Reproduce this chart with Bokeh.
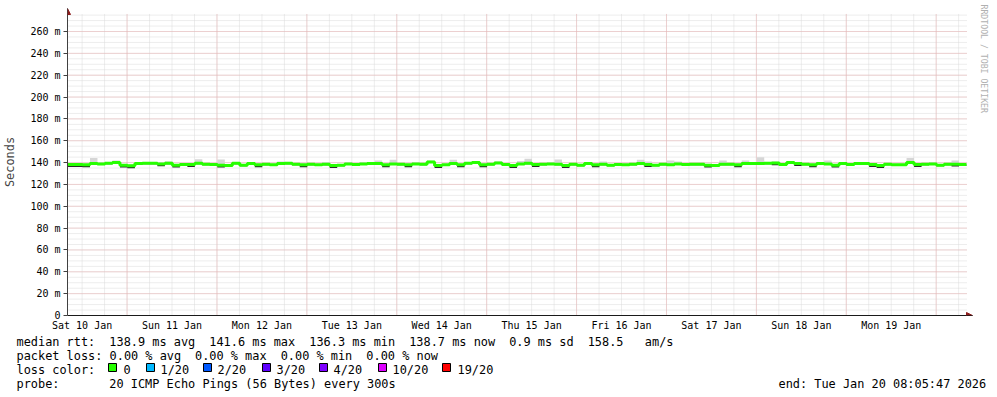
import re
import pandas as pd
from bokeh.plotting import figure
from bokeh.core.properties import value
from bokeh.models import (ColumnDataSource, FixedTicker, DatetimeTickFormatter,
                          Arrow, NormalHead, Range1d, Title)
from bokeh.embed import file_html
from bokeh.resources import INLINE

# ---------------- data ----------------
START = "2026-01-10 08:05:47"
END = "2026-01-20 08:05:47"
STEP = "2h"

median_ms = [
    138.2, 138.2, 137.9, 139.1, 138.8, 139.4, 140.0, 137.6, 137.0, 139.1,
    139.4, 139.4, 138.8, 139.4, 137.6, 138.2, 138.2, 139.4, 138.5, 138.2,
    137.6, 137.3, 139.4, 137.6, 139.1, 137.9, 138.5, 137.9, 139.1, 139.4,
    138.5, 137.9, 138.5, 137.9, 138.5, 137.3, 137.6, 138.8, 138.2, 138.8,
    139.1, 139.1, 137.9, 138.8, 138.5, 137.9, 138.8, 138.5, 140.6, 137.3,
    137.9, 139.1, 137.9, 139.4, 140.0, 137.9, 138.5, 139.7, 138.2, 137.3,
    138.8, 139.4, 138.2, 138.5, 138.8, 138.5, 137.3, 138.5, 137.6, 139.1,
    137.9, 138.5, 137.6, 138.2, 137.9, 138.5, 139.1, 138.2, 137.6, 138.5,
    137.9, 138.8, 138.2, 138.5, 138.5, 137.6, 137.3, 138.5, 138.5, 137.9,
    139.1, 139.1, 139.1, 139.4, 139.7, 138.2, 140.0, 139.1, 138.5, 137.9,
    139.1, 138.8, 137.6, 139.1, 138.2, 139.1, 139.1, 138.2, 137.3, 138.5,
    137.9, 137.9, 140.0, 138.2, 138.5, 138.8, 137.6, 138.5, 138.5, 138.2,
]
ping_hi_ms = [
    139.4, 139.4, 139.1, 144.3, 140.0, 140.6, 141.9, 138.8, 138.2, 140.3,
    140.6, 140.6, 140.0, 141.2, 138.8, 139.4, 139.4, 143.1, 139.7, 139.4,
    142.8, 138.5, 140.6, 138.8, 140.3, 139.1, 139.7, 139.1, 141.0, 140.6,
    139.7, 139.1, 139.7, 139.1, 140.6, 138.5, 138.8, 140.0, 139.4, 140.0,
    140.3, 141.9, 139.1, 142.6, 139.7, 139.1, 140.0, 139.7, 141.8, 138.5,
    139.1, 142.6, 139.1, 140.6, 141.2, 139.1, 139.7, 141.2, 139.4, 138.5,
    141.5, 143.4, 139.4, 139.7, 140.0, 142.8, 138.5, 139.7, 138.8, 140.3,
    139.1, 141.0, 138.8, 139.4, 139.1, 139.7, 142.6, 141.0, 138.8, 139.7,
    141.9, 141.0, 139.4, 139.7, 139.7, 138.8, 138.5, 141.9, 139.7, 139.1,
    141.9, 140.3, 144.9, 140.6, 141.0, 139.4, 141.2, 140.3, 139.7, 139.1,
    140.3, 141.9, 138.8, 140.3, 139.4, 140.3, 140.3, 139.4, 138.5, 139.7,
    139.1, 139.1, 144.3, 139.4, 139.7, 140.0, 138.8, 139.7, 141.9, 139.4,
]
ping_lo_ms = [
    136.0, 136.0, 135.7, 138.1, 137.8, 138.4, 139.0, 135.4, 134.8, 138.1,
    138.4, 138.4, 136.6, 138.4, 135.4, 137.2, 136.0, 138.4, 137.5, 137.2,
    135.4, 136.3, 138.4, 136.6, 138.1, 135.7, 137.5, 136.9, 138.1, 138.4,
    137.5, 135.7, 137.5, 136.9, 137.5, 135.1, 136.6, 137.8, 137.2, 137.8,
    138.1, 138.1, 135.7, 137.8, 137.5, 135.7, 137.8, 137.5, 139.6, 135.1,
    136.9, 138.1, 135.7, 138.4, 139.0, 135.7, 137.5, 138.7, 137.2, 135.1,
    137.8, 138.4, 136.0, 137.5, 137.8, 137.5, 135.1, 137.5, 136.6, 138.1,
    135.7, 137.5, 136.6, 137.2, 136.9, 137.5, 138.1, 136.0, 136.6, 137.5,
    136.9, 137.8, 137.2, 137.5, 137.5, 135.4, 136.3, 137.5, 137.5, 135.7,
    138.1, 138.1, 138.1, 138.4, 137.5, 137.2, 139.0, 136.9, 137.5, 135.7,
    138.1, 137.8, 135.4, 138.1, 137.2, 138.1, 138.1, 136.0, 135.1, 137.5,
    136.9, 136.9, 139.0, 136.0, 137.5, 137.8, 136.6, 137.5, 136.3, 137.2,
]

Y_MAX = 276.5
y_major_ticks = [0, 20, 40, 60, 80, 100, 120, 140, 160, 180, 200, 220, 240, 260]
y_major_labels = ["0", "20 m", "40 m", "60 m", "80 m", "100 m", "120 m", "140 m",
                  "160 m", "180 m", "200 m", "220 m", "240 m", "260 m"]
Y_MINOR_STEP = 5

loss_labels = ["0", "1/20", "2/20", "3/20", "4/20", "10/20", "19/20"]
loss_colors = ["#26ff00", "#00b8ff", "#0059ff", "#5e00ff", "#7e00ff", "#dd00ff", "#ff0000"]

legend_rtt = "median rtt:  138.9 ms avg  141.6 ms max  136.3 ms min  138.7 ms now  0.9 ms sd  158.5   am/s"
legend_loss = "packet loss: 0.00 % avg  0.00 % max  0.00 % min  0.00 % now"
legend_color = "loss color:"
legend_probe = "probe:       20 ICMP Echo Pings (56 Bytes) every 300s"
legend_end = "end: Tue Jan 20 08:05:47 2026"
watermark = "RRDTOOL / TOBI OETIKER"

# ---------------- layout (window px) ----------------
W = 996
H_MAIN, H_LEG = 334, 62
FL, FR, FT, FB = 66, 972, 8, 315           # frame edges (incl. arrow room)
PX_PER_H = 3.75                            # x scale of the reference
PX_PER_MS = 1.0923                         # y scale of the reference
MONO = "DejaVu Sans Mono"
LEG_SIZE = "11.9px"
CH = 7.14                                  # legend character advance
ROW_Y = [341, 355, 369, 383]               # legend baselines (window y)
BOX_TOP, BOX_BOT = 363, 371

# ---------------- data prep ----------------
times = pd.date_range(START, periods=len(median_ms) + 1, freq=STEP)
src = ColumnDataSource(dict(
    t=times,
    med=median_ms + [median_ms[-1]],
    hi=ping_hi_ms + [ping_hi_ms[-1]],
    lo=ping_lo_ms + [ping_lo_ms[-1]],
))

def ms(ts):
    return pd.Timestamp(ts).value / 1e6

t0, t1 = ms(START), ms(END)
X_END = t0 + (FR - FL) / PX_PER_H * 3600e3
Y_TOP = (FB - FT) / PX_PER_MS

noons = [ms(d) for d in pd.date_range("2026-01-10 12:00", "2026-01-19 12:00", freq="D")]
midnights = [ms(d) for d in pd.date_range("2026-01-11", "2026-01-20", freq="D")]
six_hours = [ms(d) for d in pd.date_range("2026-01-10 12:00", "2026-01-20 06:00", freq="6h")]
y_minor = [v for v in range(Y_MINOR_STEP, int(Y_MAX) + 1, Y_MINOR_STEP)]

p = figure(width=W, height=H_MAIN, x_axis_type="datetime", output_backend="svg",
           toolbar_location=None, x_range=Range1d(t0, X_END), y_range=Range1d(0, Y_TOP))
p.min_border_left = FL
p.min_border_right = W - FR
p.min_border_top = FT
p.min_border_bottom = H_MAIN - FB
p.outline_line_color = None
p.background_fill_color = "white"
p.border_fill_color = "white"
p.xgrid.visible = False
p.ygrid.visible = False

# grids (drawn only inside the real canvas)
MINOR_C, MAJOR_C = "#dadada", "#eab2b2"
p.segment(x0=six_hours, x1=six_hours, y0=0, y1=Y_MAX, line_color=MINOR_C, line_dash="1 1")
p.segment(x0=t0, x1=t1, y0=y_minor, y1=y_minor, line_color=MINOR_C, line_dash="1 1")
p.segment(x0=midnights, x1=midnights, y0=0, y1=Y_MAX, line_color=MAJOR_C, line_dash="1 1")
p.segment(x0=t0, x1=t1, y0=y_major_ticks[1:], y1=y_major_ticks[1:], line_color=MAJOR_C,
          line_dash="1 1")

# smoke and median
p.varea_step(x="t", y1="med", y2="hi", step_mode="after", fill_color="#d6d6d6", source=src)
p.varea_step(x="t", y1="lo", y2="med", step_mode="after", fill_color="#2b2b2b", source=src)
p.step(x="t", y="med", mode="after", line_color=loss_colors[0], line_width=3, source=src)

# axes
xa = p.xaxis[0]
xa.ticker = FixedTicker(ticks=noons)
fmt = "%a %d %b"
xa.formatter = DatetimeTickFormatter(microseconds=fmt, milliseconds=fmt, seconds=fmt,
                                     minsec=fmt, minutes=fmt, hourmin=fmt, hours=fmt,
                                     days=fmt, months=fmt, years=fmt)
xa.major_tick_out = 0
xa.major_tick_in = 0
xa.minor_tick_out = 0
xa.minor_tick_in = 0
xa.major_label_standoff = 4
xa.axis_line_color = "#1a1a1a"
xa.major_label_text_font = MONO
xa.major_label_text_font_size = "10px"
xa.major_label_text_color = "black"

ya = p.yaxis[0]
ya.ticker = FixedTicker(ticks=y_major_ticks)
ya.major_label_overrides = {v: s for v, s in zip(y_major_ticks, y_major_labels)}
ya.major_tick_out = 4
ya.major_tick_in = 0
ya.minor_tick_out = 0
ya.minor_tick_in = 0
ya.major_label_standoff = 3
ya.axis_line_color = "#404040"
ya.major_tick_line_color = "#404040"
ya.major_label_text_font = MONO
ya.major_label_text_font_size = "10px"
ya.major_label_text_color = "black"
ya.axis_label = "Seconds"
ya.axis_label_text_font = MONO
ya.axis_label_text_font_size = LEG_SIZE
ya.axis_label_text_font_style = "normal"
ya.axis_label_standoff = 10

# axis arrow heads
ARROW_C = "#8c1c1c"
p.add_layout(Arrow(end=NormalHead(size=6, fill_color=ARROW_C, line_color=ARROW_C),
                   x_start=t0, y_start=Y_MAX, x_end=t0, y_end=Y_TOP,
                   line_color="#404040", line_width=1))
p.add_layout(Arrow(end=NormalHead(size=6, fill_color=ARROW_C, line_color=ARROW_C),
                   x_start=t1, y_start=0, x_end=X_END, y_end=0,
                   line_color="#1a1a1a", line_width=1))

# watermark (vertical, right side)
p.add_layout(Title(text=watermark, text_font=MONO, text_font_size="8.2px",
                   text_color="#b0b0b0", text_font_style="normal", align="left",
                   standoff=12, offset=-4), "right")

# ---------------- legend panel (separate root, stacked below) ----------------
leg = figure(width=W, height=H_LEG, output_backend="svg", toolbar_location=None,
             x_range=Range1d(0, W), y_range=Range1d(H_MAIN + H_LEG, H_MAIN),
             x_axis_location=None, y_axis_location=None, min_border=0)
leg.outline_line_color = None
leg.xgrid.visible = False
leg.ygrid.visible = False
leg.background_fill_color = "white"
leg.border_fill_color = "white"

X0 = 16
tx, ty, tt = [], [], []

def add_row(s, base_y, x0=X0):
    for m in re.finditer(r"\S+(?: \S+)*", s):
        tx.append(x0 + m.start() * CH)
        ty.append(base_y)
        tt.append(m.group(0))

add_row(legend_rtt, ROW_Y[0])
add_row(legend_loss, ROW_Y[1])
add_row(legend_color, ROW_Y[2])
add_row(legend_probe, ROW_Y[3])
add_row(legend_end, ROW_Y[3], x0=778)

box_x = [108, 146, 203, 262, 319, 378, 442]
lbl_x = [123, 160, 217, 276, 333, 392, 457]
for lbl, lx in zip(loss_labels, lbl_x):
    tx.append(lx)
    ty.append(ROW_Y[2])
    tt.append(lbl)

leg.text(x=tx, y=ty, text=tt, text_font=value(MONO), text_font_size=LEG_SIZE,
         text_color="black", text_baseline="alphabetic", text_align="left")
leg.quad(left=box_x, right=[b + 8 for b in box_x], top=[BOX_TOP] * len(box_x),
         bottom=[BOX_BOT] * len(box_x), fill_color=loss_colors, line_color="black",
         line_width=1)

open("out.html", "w").write(file_html([p, leg], INLINE))
